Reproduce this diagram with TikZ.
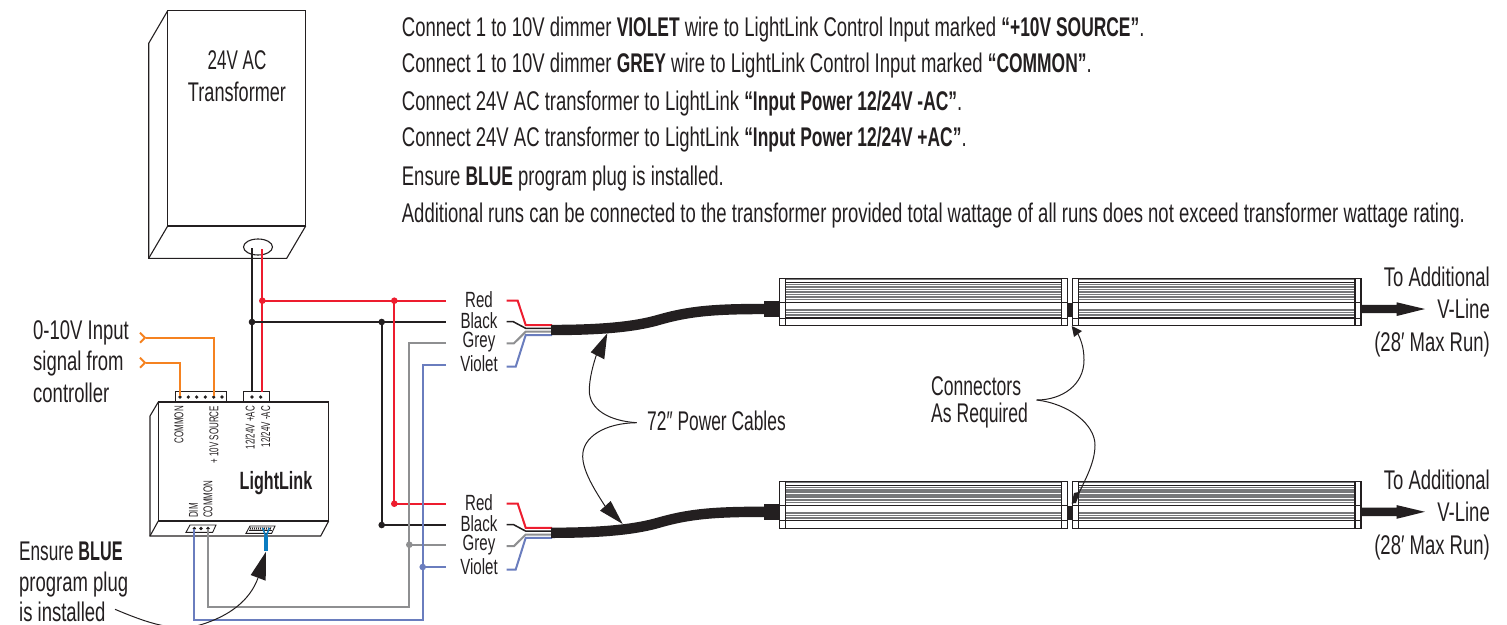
\documentclass[tikz,border=0pt]{standalone}
\usepackage{fontspec}
\setmainfont[FakeStretch=0.685,BoldFeatures={FakeStretch=0.645}]{Liberation Sans}
\newfontfamily\tinyfont[FakeStretch=0.62]{Liberation Sans}
\usetikzlibrary{arrows.meta}
\definecolor{wred}{HTML}{ED1C2E}
\definecolor{wblack}{HTML}{231F20}
\definecolor{wgrey}{HTML}{8E8F91}
\definecolor{wband}{HTML}{77787A}
\definecolor{wviolet}{HTML}{6A7DBE}
\definecolor{worange}{HTML}{F58220}
\definecolor{wblue}{HTML}{0A7CC1}
\tikzset{
  x=1pt,y=-1pt,
  outline/.style={draw=wblack,line width=1.1pt,line join=miter},
  wire/.style={line width=2pt,line join=miter},
  leader/.style={draw=wblack,line width=1.0pt},
  dotnode/.style={circle,fill=#1,inner sep=0pt,minimum size=6.6pt},
  termdot/.style={circle,fill=wblack,inner sep=0pt,minimum size=3.6pt},
  txt/.style={inner sep=0pt,font=\fontsize{27}{28}\selectfont,text=wblack},
  textline/.style={txt,anchor=base west},
  wlabel/.style={inner sep=0pt,font=\fontsize{22}{24}\selectfont,text=wblack,anchor=center},
  smalltxt/.style={inner sep=0pt,font=\tinyfont\fontsize{12.8}{15}\selectfont,text=wblack,rotate=90,anchor=east},
}
\newcommand{\strandset}[1]{%
  \coordinate (#1rs) at (506.7,300.7);
  \coordinate (#1bs) at (506.7,321.7);
  \coordinate (#1gs) at (506.7,343.3);
  \coordinate (#1vs) at (506.7,366.7);
  \coordinate (#1ce) at (551,330);
  \coordinate (#1cx) at (764,309);
  \draw[wire,wred] (#1rs) -- (517.7,300.7) -- (525.7,325) -- (552,325);
  \draw[wire,wblack,line width=1.5pt] (#1bs) -- (513.3,321.7) -- (525.7,328.3) -- (552,328.3);
  \draw[wire,wgrey] (#1gs) -- (514,343.3) -- (525.7,331.7) -- (552,331.7);
  \draw[wire,wviolet] (#1vs) -- (515.7,366.7) -- (525.7,335) -- (552,335);
  \draw[wblack,line width=10.4pt] (#1ce) .. controls (600,330) and (635,327) .. (660,319.5) .. controls (690,311) and (715,309) .. (#1cx);
  \fill[wblack] (764,301) rectangle (779.5,316.7);
  \node[wlabel] (#1red) at (479,299.5) {Red};
  \node[wlabel] (#1black) at (479,320.5) {Black};
  \node[wlabel] (#1grey) at (479,342) {Grey};
  \node[wlabel] (#1violet) at (479,363.5) {Violet};
}
\newcommand{\railpart}[2]{%
  \foreach \yy/\cc/\ww in {279/wband/1.4,284.5/wband/1.5,287/wband/1.5,289.5/wband/1.7,292/wband/1.7,294.5/wband/1.7,297/wband/1.5,299.5/wband/1.2,282.3/wblack/1.1,302.7/wblack/1.1,310/wband/1.4,312.7/wband/1.4,315/wband/1.4,318/wblack/1.1}{
    \draw[draw=\cc,line width=\ww pt] (#1,\yy) -- (#2,\yy);
  }
  \fill[white] (#1,278.3) rectangle (#1+6,325.3);
  \fill[white] (#2-6,278.3) rectangle (#2,325.3);
  \draw[outline] (#1,278.3) rectangle (#2,325.3);
  \draw[outline] (#1+6,278.3) -- (#1+6,325.3);
  \draw[outline] (#2-6,278.3) -- (#2-6,325.3);
  \draw[wblack,line width=0.9pt] (#1,302.7) -- (#1+6,302.7) (#1,318) -- (#1+6,318);
  \draw[wblack,line width=0.9pt] (#2-6,302.7) -- (#2,302.7) (#2-6,318) -- (#2,318);
}
\newcommand{\fixtureset}[1]{%
  \railpart{779.3}{1067.7}
  \railpart{1072.3}{1361}
  \fill[wblack] (1066.7,302.7) rectangle (1072.7,317.3);
  \coordinate (#1start) at (1361,304.8);
  \coordinate (#1tip) at (1425,309);
  \fill[wblack] (#1start) -- (1396.7,304.8) -- (1396.7,302.3) -- (#1tip) -- (1396.7,316) -- (1396.7,313.2) -- (1361,313.2) -- cycle;
  \node[txt,anchor=base east] (#1a) at (1490,286.5) {To Additional};
  \node[txt,anchor=base east] (#1b) at (1490,318.5) {V-Line};
  \node[txt,anchor=base east] (#1c) at (1490,351.5) {(28′ Max Run)};
}
\begin{document}
\begin{tikzpicture}
\useasboundingbox (0,0) rectangle (1507,624);
\clip (0,0) rectangle (1507,624);

% ---- instruction text
\node[textline] (t1) at (401.7,36) {Connect 1 to 10V dimmer \textbf{VIOLET} wire to LightLink Control Input marked \textbf{“+10V SOURCE”}.};
\node[textline] (t2) at (401.7,72) {Connect 1 to 10V dimmer \textbf{GREY} wire to LightLink Control Input marked \textbf{“COMMON”}.};
\node[textline] (t3) at (401.7,110) {Connect 24V AC transformer to LightLink \textbf{“Input Power 12/24V -AC”}.};
\node[textline] (t4) at (401.7,146.5) {Connect 24V AC transformer to LightLink \textbf{“Input Power 12/24V +AC”}.};
\node[textline] (t5) at (401.7,185) {Ensure \textbf{BLUE} program plug is installed.};
\node[textline] (t6) at (401.7,222) {Additional runs can be connected to the transformer provided total wattage of all runs does not exceed transformer wattage rating.};

% ---- transformer
\draw[outline] (167.7,10.7) rectangle (305.7,226);
\draw[outline] (167.7,10.7) -- (148.7,43.3) -- (148.7,258.3) -- (286.7,258.3) -- (305.7,226);
\draw[outline] (148.7,258.3) -- (167.7,226);
\draw[outline] (258,247) ellipse [x radius=14.5,y radius=8];
\node[txt,align=center,anchor=center] (xfmr) at (237,76) {\scalebox{.92}[1]{24V AC}\\[4pt]\scalebox{.98}[1]{Transformer}};

% ---- key coordinates
\coordinate (xb) at (252,248);
\coordinate (xr) at (262.3,249);
\coordinate (jr1) at (262.3,300.7);
\coordinate (jr2) at (394.3,300.7);
\coordinate (jr3) at (394.3,503.7);
\coordinate (jb1) at (252,322);
\coordinate (jb2) at (381.7,322);
\coordinate (jb3) at (381.7,525);
\coordinate (jg3) at (409.3,544.7);
\coordinate (jv3) at (422.7,567);
\coordinate (rb) at (252,392);
\coordinate (rr) at (262.3,392);
\coordinate (dimg) at (207.7,529);
\coordinate (dimv) at (194.3,529);

% ---- LightLink box
\draw[outline] (158.3,402) rectangle (328.7,521);
\draw[outline] (158.3,402) -- (150,416) -- (150,536) -- (320.7,536) -- (328.7,521);
\draw[outline] (150,536) -- (158.3,521);
\draw[outline,fill=white] (175.7,391.7) rectangle (226.7,402);
\draw[outline,fill=white] (243.3,391.7) rectangle (269.3,402);
\foreach \n/\px in {a/180,b/188.3,c/196.7,d/205.3,e/213.7,f/222}{\node[termdot] (tl\n) at (\px,397) {};}
\node[termdot] (trb) at (252,397) {};
\node[termdot] (trr) at (260.7,397) {};
\draw[outline,line width=0.9pt,fill=white] (190,525) -- (216,525) -- (212.7,532.3) -- (186,532.3) -- cycle;
\foreach \n/\px in {a/194.3,b/201,c/208}{\node[termdot] (bl\n) at (\px,528.5) {};}
\draw[outline,line width=0.9pt,fill=white] (250,526) -- (275,526) -- (271.7,533.3) -- (246,533.3) -- cycle;
\foreach \px in {251,253,...,271}{\draw[wblack,line width=0.7pt] (\px,527) -- (\px-1,530);}
\draw[wblack,line width=0.8pt] (249,530.5) -- (272,530.5);
\node[smalltxt] (lc) at (179,406) {COMMON};
\node[smalltxt] (ls) at (214,406) {+ 10V SOURCE};
\node[smalltxt] (lp) at (250,406) {12/24V +AC};
\node[smalltxt] (lm) at (265.5,406) {12/24V -AC};
\node[smalltxt,anchor=west] (ldim) at (193.5,518) {DIM};
\node[smalltxt,anchor=west] (lcom) at (208,518) {COMMON};
\node[inner sep=0pt,font=\fontsize{25}{28}\selectfont\bfseries,text=wblack] (ll) at (276,483.5) {LightLink};

% ---- blue plug
\draw[wblue,line width=1.5pt] (262.7,528) -- (266,537) -- (269.3,528);
\draw[wblue,line width=4.6pt] (266,536) -- (266,550.7);

% ---- wires to transformer
\draw[wire,wblack] (xb) -- (rb);
\draw[wire,wred] (xr) -- (rr);
\draw[wire,wred] (jr1) -- (446,300.7);
\draw[wire,wblack] (jb1) -- (446,322);
\draw[wire,wred] (jr2) -- (jr3) -- (446,503.7);
\draw[wire,wblack] (jb2) -- (jb3) -- (446,525);
\draw[wire,wgrey] (446,343.3) -- (409.3,343.3) -- (409.3,607) -- (207.7,607) -- (dimg);
\draw[wire,wgrey] (jg3) -- (446,544.7);
\draw[wire,wviolet] (446,365.3) -- (422.7,365.3) -- (422.7,620) -- (194.3,620) -- (dimv);
\draw[wire,wviolet] (jv3) -- (446,567);
\foreach \n/\c in {jr1/wred,jr2/wred,jr3/wred,jb1/wblack,jb2/wblack,jb3/wblack,jg3/wgrey,jv3/wviolet}{\node[dotnode=\c] (\n d) at (\n) {};}

% ---- orange control wires
\coordinate (oa) at (146,337.7);
\coordinate (ob) at (146,362.7);
\draw[wire,worange] (oa) -- (213.5,337.7) -- (213.5,396);
\draw[wire,worange] (ob) -- (180,362.7) -- (180,396);
\draw[wire,worange] (140,332.7) -- (145,337.7) -- (140,342.7);
\draw[wire,worange] (140,357.7) -- (145,362.7) -- (140,367.7);

% ---- left texts
\node[txt,anchor=base west] (in1) at (33,339) {0-10V Input};
\node[txt,anchor=base west] (in2) at (33,370) {signal from};
\node[txt,anchor=base west] (in3) at (33,402) {controller};
\node[txt,anchor=base west] (en1) at (19,560) {\scalebox{.93}[1]{Ensure \textbf{BLUE}}};
\node[txt,anchor=base west] (en2) at (19,591) {program plug};
\node[txt,anchor=base west] (en3) at (19,621.5) {is installed};

% ---- cable runs
\strandset{u}
\begin{scope}[shift={(0,202.8)}]
\strandset{v}
\end{scope}

% ---- fixtures
\fixtureset{fu}
\begin{scope}[shift={(0,202.8)}]
\fixtureset{fv}
\end{scope}

% ---- plug leader
\coordinate (pla) at (115,609.3);
\draw[leader] (pla) .. controls (150,624) and (175,632) .. (200,625) .. controls (230,616) and (250,600) .. (258,578);
\fill[wblack] (266,551.7) -- (250.7,575) -- (265.7,580.7) -- cycle;

% ---- power cable leaders
\node[txt,anchor=base west] (pc) at (647,430) {\scalebox{.94}[1]{72″ Power Cables}};
\coordinate (pct) at (636.7,422.7);
\draw[leader] (pct) .. controls (610,421) and (589,410) .. (589.3,390) .. controls (589.5,378) and (593,365) .. (597,353);
\fill[wblack] (607.3,333.3) -- (590.7,352.3) -- (604.3,359.3) -- cycle;
\draw[leader] (pct) .. controls (605,423) and (582,437) .. (582.7,456.7) .. controls (583,472) and (596,492) .. (605,506);
\fill[wblack] (622.7,524) -- (600,510.7) -- (610.7,501) -- cycle;

% ---- connector leaders
\node[txt,anchor=base west,align=left] (cn1) at (931,395) {\scalebox{.95}[1]{Connectors}};
\node[txt,anchor=base west,align=left] (cn2) at (931,422) {\scalebox{.95}[1]{As Required}};
\coordinate (cnt) at (1036.7,400);
\draw[leader] (cnt) .. controls (1062,400) and (1084,385) .. (1084,360) .. controls (1084,350) and (1082,342) .. (1078,334);
\fill[wblack] (1071.7,326) -- (1074,337) -- (1082,331) -- cycle;
\draw[leader] (cnt) .. controls (1070,404) and (1095,425) .. (1095,445) .. controls (1095,462) and (1086,478) .. (1078,495);
\fill[wblack] (1071.7,503.5) -- (1074,493) -- (1080,491.7) -- (1076,503) -- cycle;
\end{tikzpicture}
\end{document}
